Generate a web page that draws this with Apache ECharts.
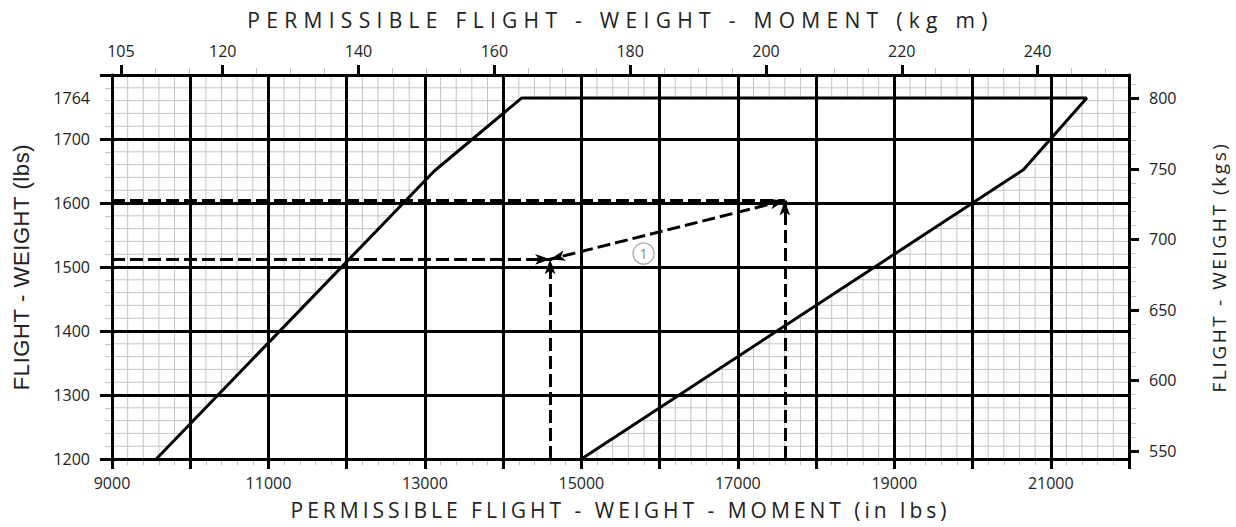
<!DOCTYPE html>
<html>
<head>
<meta charset="utf-8">
<title>Permissible flight weight - moment</title>
<script src="https://cdn.jsdelivr.net/npm/echarts@6/dist/echarts.min.js"></script>
<style>
  html, body { margin: 0; background: #fff; }
  #chart { width: 1236px; height: 527px; }
</style>
</head>
<body>
<div id="chart"></div>
<script>
const KG_PER_LB = 0.45359237
const KGM_PER_LBIN = 0.45359237 * 0.0254

const momentRange = [9000, 22000]
const weightRange = [1200, 1800]
const fineStep = [200, 20] // fine grid step: moment, weight

// envelope outline: moment (lb in) and weight (lbs)
const envMoment = [9566, 13120, 14235, 21460, 20650, 15000]
const envWeight = [1200, 1650, 1764, 1764, 1652, 1200]

// worked example (1)
const exMoment = [14600, 17600]
const exWeight = [1512, 1604]
const markerAt = [15795, 1521]

// tick labels
const momentLabels = [9000, 11000, 13000, 15000, 17000, 19000, 21000]
const lbsLabels = [1200, 1300, 1400, 1500, 1600, 1700, 1764]
const kgmLabels = [105, 120, 140, 160, 180, 200, 220, 240]
const kgmMinor = [110, 115, 125, 130, 135, 145, 150, 155, 165, 170, 175, 185, 190, 195, 205, 210, 215, 225, 230, 235, 245, 250]
const kgLabels = [550, 600, 650, 700, 750, 800]
const kgMinor = [560, 570, 580, 590, 610, 620, 630, 640, 660, 670, 680, 690, 710, 720, 730, 740, 760, 770, 780, 790, 810]

const bottomName = 'PERMISSIBLE FLIGHT - WEIGHT - MOMENT (in lbs)'
const topName = 'PERMISSIBLE FLIGHT - WEIGHT - MOMENT (kg m)'
const leftName = 'FLIGHT - WEIGHT (lbs)'
const rightName = 'FLIGHT - WEIGHT (kgs)'
// letter spacing for the axis titles (px)
const nameSpacing = { [bottomName]: 4, [topName]: 6.3, [leftName]: 0.6, [rightName]: 2.6 }

// the two sides of the envelope, both running upward
const leftM = envMoment.slice(0, 3)
const leftW = envWeight.slice(0, 3)
const rightM = envMoment.slice(3).reverse()
const rightW = envWeight.slice(3).reverse()

function interp (xs, ys, v) {
  for (let i = 0; i < xs.length - 1; i++) {
    if (v <= xs[i + 1]) return ys[i] + (ys[i + 1] - ys[i]) * (v - xs[i]) / (xs[i + 1] - xs[i])
  }
  return ys[ys.length - 1]
}

const black = '#000'
const thin = '#c4c4c4'
const plain = v => String(v)
const labelFont = { fontFamily: 'Open Sans', fontSize: 16, color: '#222', formatter: plain }
const heavy = { color: black, width: 3 }
const off = { show: false }

function axis (opt) {
  return Object.assign({
    type: 'value',
    splitLine: off,
    splitArea: off,
    minorTick: off,
    minorSplitLine: off
  }, opt)
}

const chart = echarts.init(document.getElementById('chart'), null, { renderer: 'svg' })

chart.setOption({
  animation: false,
  backgroundColor: '#fff',
  grid: { left: 112, right: 104, top: 75, bottom: 68 },
  xAxis: [axis({
    // minor ticks below the plot
    position: 'bottom',
    min: momentRange[0],
    max: momentRange[1],
    interval: 1000,
    z: -1,
    axisLine: off,
    axisTick: off,
    axisLabel: off,
    minorTick: { show: true, splitNumber: 5, length: 6, lineStyle: { color: thin, width: 1 } }
  }), axis({
    position: 'bottom',
    min: momentRange[0],
    max: momentRange[1],
    interval: 1000,
    z: 5,
    name: bottomName,
    nameLocation: 'middle',
    nameGap: 40,
    nameTextStyle: { fontFamily: 'Open Sans', fontSize: 21, color: '#222' },
    axisLine: { lineStyle: heavy },
    axisTick: { length: 10, lineStyle: heavy },
    axisLabel: Object.assign({ customValues: momentLabels, margin: 16 }, labelFont),
    splitLine: { show: true, lineStyle: heavy }
  }), axis({
    position: 'top',
    min: momentRange[0] * KGM_PER_LBIN,
    max: momentRange[1] * KGM_PER_LBIN,
    z: 5,
    name: topName,
    nameLocation: 'middle',
    nameGap: 45,
    nameTextStyle: { fontFamily: 'Open Sans', fontSize: 21, color: '#222' },
    axisLine: { lineStyle: heavy },
    axisTick: { customValues: kgmLabels, length: 10, lineStyle: heavy },
    axisLabel: Object.assign({ customValues: kgmLabels, margin: 16 }, labelFont)
  }), axis({
    position: 'top',
    min: momentRange[0] * KGM_PER_LBIN,
    max: momentRange[1] * KGM_PER_LBIN,
    z: -1,
    axisLine: off,
    axisTick: { customValues: kgmMinor, length: 7, lineStyle: { color: thin, width: 1 } },
    axisLabel: off
  })],
  yAxis: [axis({
    position: 'left',
    min: weightRange[0],
    max: weightRange[1],
    interval: 100,
    z: -1,
    axisLine: off,
    axisTick: off,
    axisLabel: off,
    minorTick: { show: true, splitNumber: 5, length: 7, lineStyle: { color: thin, width: 1 } }
  }), axis({
    position: 'left',
    min: weightRange[0],
    max: weightRange[1],
    interval: 100,
    z: 5,
    name: leftName,
    nameLocation: 'middle',
    nameGap: 80,
    nameTextStyle: { fontFamily: 'Liberation Sans', fontSize: 22, color: '#222' },
    axisLine: { lineStyle: heavy },
    axisTick: { length: 12, lineStyle: heavy },
    axisLabel: Object.assign({ customValues: lbsLabels, margin: 22 }, labelFont),
    splitLine: { show: true, lineStyle: heavy }
  }), axis({
    position: 'right',
    min: weightRange[0] * KG_PER_LB,
    max: weightRange[1] * KG_PER_LB,
    z: 5,
    name: rightName,
    nameLocation: 'middle',
    nameGap: 80,
    nameTextStyle: { fontFamily: 'Open Sans', fontSize: 19, color: '#222' },
    axisLine: { lineStyle: heavy },
    axisTick: { customValues: kgLabels, length: 10, lineStyle: heavy },
    axisLabel: Object.assign({ customValues: kgLabels, margin: 20 }, labelFont)
  }), axis({
    position: 'right',
    min: weightRange[0] * KG_PER_LB,
    max: weightRange[1] * KG_PER_LB,
    z: -1,
    axisLine: off,
    axisTick: { customValues: kgMinor, length: 7, lineStyle: { color: thin, width: 1 } },
    axisLabel: off
  })],
  series: [{
    // fine graph-paper grid, only outside the envelope
    type: 'custom',
    xAxisIndex: 1,
    yAxisIndex: 1,
    z: 1,
    clip: false,
    silent: true,
    encode: { x: 0, y: 1 },
    data: [[envMoment[0], envWeight[0]]],
    renderItem: function (params, api) {
      const children = []
      const seg = (x1, y1, x2, y2) => {
        const a = api.coord([x1, y1])
        const b = api.coord([x2, y2])
        children.push({
          type: 'line',
          shape: { x1: a[0], y1: a[1], x2: b[0], y2: b[1] },
          style: { stroke: thin, lineWidth: 1 }
        })
      }
      for (let m = momentRange[0]; m <= momentRange[1]; m += fineStep[0]) {
        if (m <= leftM[0] || m >= rightM[2]) {
          seg(m, weightRange[0], m, weightRange[1])
          continue
        }
        const top = m < leftM[2] ? interp(leftM, leftW, m) : leftW[2]
        const bottom = m > rightM[0] ? interp(rightM, rightW, m) : weightRange[0]
        if (bottom > weightRange[0]) seg(m, weightRange[0], m, bottom)
        seg(m, top, m, weightRange[1])
      }
      for (let w = weightRange[0]; w <= weightRange[1]; w += fineStep[1]) {
        if (w >= leftW[2]) {
          seg(momentRange[0], w, momentRange[1], w)
          continue
        }
        seg(momentRange[0], w, interp(leftW, leftM, w), w)
        seg(interp(rightW, rightM, w), w, momentRange[1], w)
      }
      return { type: 'group', children: children }
    }
  }, {
    type: 'line',
    xAxisIndex: 1,
    yAxisIndex: 1,
    z: 6,
    silent: true,
    symbol: 'none',
    lineStyle: { color: black, width: 3 },
    data: envMoment.map((m, i) => [m, envWeight[i]])
  }, {
    type: 'line',
    xAxisIndex: 1,
    yAxisIndex: 1,
    z: 7,
    silent: true,
    data: [],
    markLine: {
      silent: true,
      symbol: ['none', 'arrow'],
      symbolSize: [8, 15],
      label: off,
      lineStyle: { color: black, width: 3, type: [13, 5] },
      data: [
        [{ coord: [momentRange[0], exWeight[0]] }, { coord: [exMoment[0], exWeight[0]] }],
        [{ coord: [exMoment[0], weightRange[0]] }, { coord: [exMoment[0], exWeight[0]] }],
        [{ coord: [exMoment[1], weightRange[0]] }, { coord: [exMoment[1], exWeight[1]] }],
        [{ coord: [momentRange[0], exWeight[1]] }, { coord: [exMoment[1], exWeight[1]], symbol: 'none' }],
        [{ coord: [exMoment[1], exWeight[1]], symbol: 'arrow' }, { coord: [exMoment[0], exWeight[0]] }]
      ]
    }
  }, {
    type: 'scatter',
    xAxisIndex: 1,
    yAxisIndex: 1,
    z: 8,
    silent: true,
    symbol: 'circle',
    symbolSize: 21,
    itemStyle: { color: '#fff', borderColor: '#888', borderWidth: 1.2 },
    label: { show: true, position: 'inside', formatter: '1', color: '#666', fontFamily: 'Open Sans', fontSize: 14 },
    data: [markerAt]
  }]
})

// echarts text has no letter spacing, set it on the svg text nodes
function spaceNames () {
  document.querySelectorAll('#chart text').forEach(function (t) {
    const s = nameSpacing[t.textContent.trim()]
    if (s) t.style.letterSpacing = s + 'px'
  })
}
chart.on('finished', spaceNames)
spaceNames()
</script>
</body>
</html>
